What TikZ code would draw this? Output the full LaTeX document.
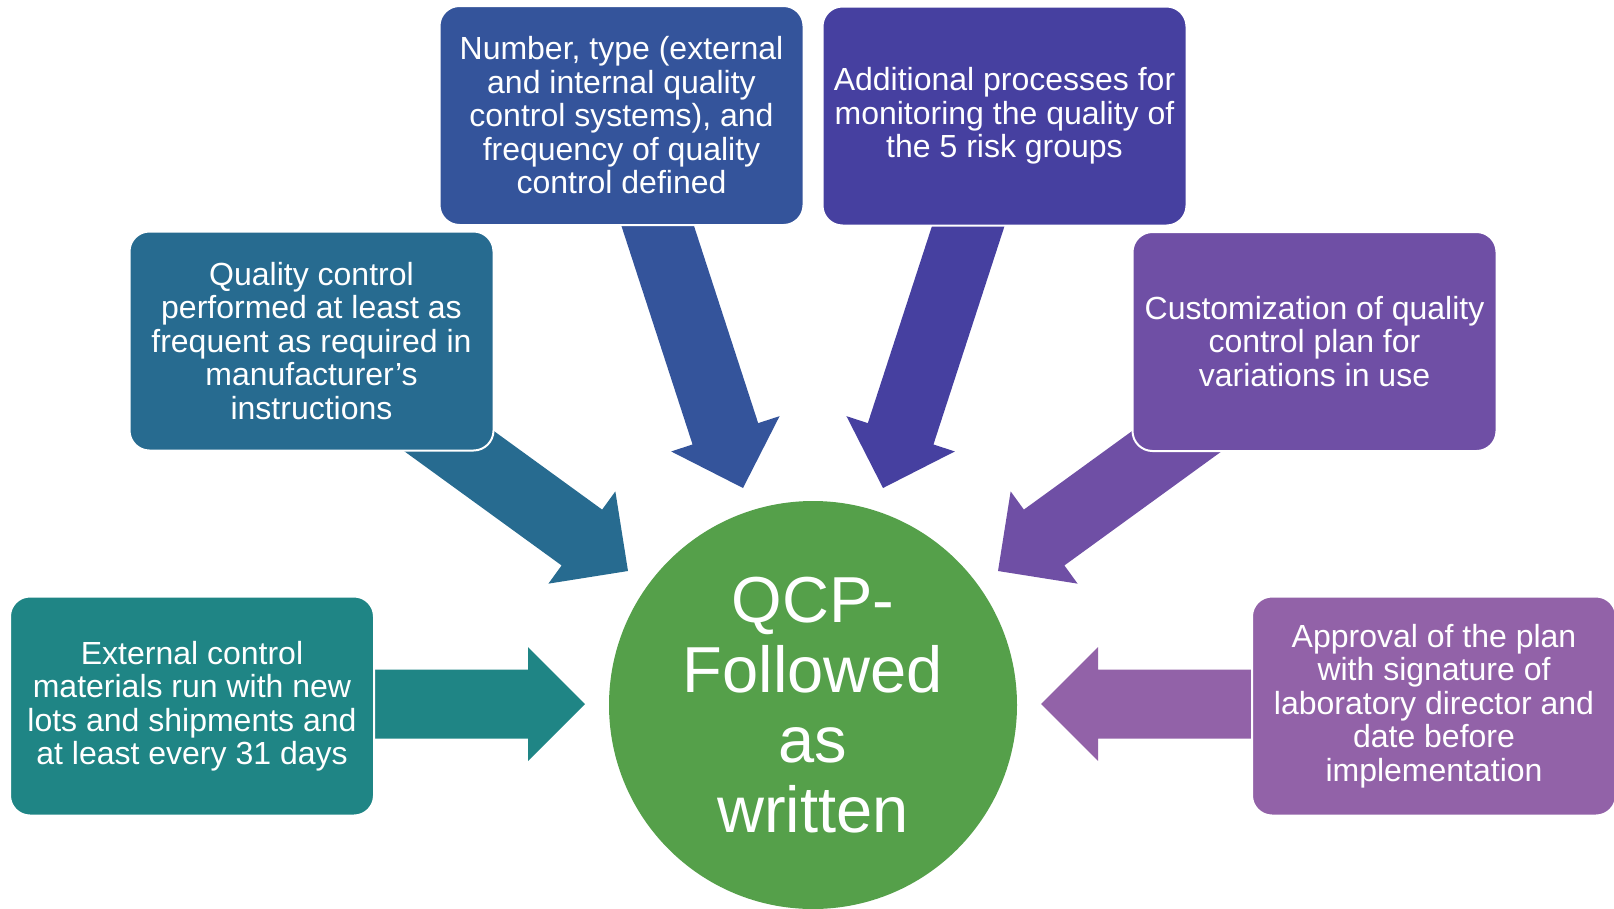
\documentclass[tikz,border=0pt]{standalone}
\usepackage{fontspec}
\setmainfont{Liberation Sans}
\usetikzlibrary{calc}
\definecolor{cA}{HTML}{1F8585}
\definecolor{cB}{HTML}{276B90}
\definecolor{cC}{HTML}{34549B}
\definecolor{cD}{HTML}{4640A0}
\definecolor{cE}{HTML}{6F4FA5}
\definecolor{cF}{HTML}{9262A8}
\definecolor{cG}{HTML}{55A04A}
\newcommand{\blockarr}[3]{%
  \coordinate (#1-h) at ($(#2)!57pt!(#1)$);
  \fill[#3] ($(#1)!34.5pt!90:(#2)$) -- ($(#1-h)!34.5pt!90:(#2)$) -- ($(#1-h)!57pt!90:(#2)$) -- (#2)
    -- ($(#1-h)!57pt!-90:(#2)$) -- ($(#1-h)!34.5pt!-90:(#2)$) -- ($(#1)!34.5pt!-90:(#2)$) -- cycle;}
\tikzset{
  box/.style={rounded corners=20pt, draw=white, line width=2pt, text=white, align=center,
    font=\fontsize{32}{33.5}\selectfont, minimum width=364pt, minimum height=219pt, inner sep=0pt},
  hub/.style={circle, fill=cG, text=white, align=center, minimum size=408pt, inner sep=0pt,
    font=\fontsize{65}{70}\selectfont}
}
\begin{document}
\begin{tikzpicture}[x=1pt,y=-1pt]
\useasboundingbox (0,0) rectangle (1614,908);
% arrow tails and tips
\coordinate (a1) at (300,704);  \coordinate (p1) at (585,704);
\coordinate (a2) at (369,383);  \coordinate (p2) at (628,571);
\coordinate (a3) at (633,150);  \coordinate (p3) at (743,488);
\coordinate (a4) at (993,150);  \coordinate (p4) at (883,488);
\coordinate (a5) at (1257,383); \coordinate (p5) at (998,571);
\coordinate (a6) at (1326,704); \coordinate (p6) at (1041,704);
\blockarr{a1}{p1}{cA}
\blockarr{a2}{p2}{cB}
\blockarr{a3}{p3}{cC}
\blockarr{a4}{p4}{cD}
\blockarr{a5}{p5}{cE}
\blockarr{a6}{p6}{cF}
% boxes
\node[box, fill=cA] (b1) at (192,706) {External control\\materials run with new\\lots and shipments and\\at least every 31 days};
\node[box, fill=cB] (b2) at (311.5,341) {Quality control\\performed at least as\\frequent as required in\\manufacturer’s\\instructions};
\node[box, fill=cC] (b3) at (621.5,115.5) {Number, type (external\\and internal quality\\control systems), and\\frequency of quality\\control defined};
\node[box, fill=cD] (b4) at (1004.5,116) {Additional processes for\\monitoring the quality of\\the 5 risk groups};
\node[box, fill=cE] (b5) at (1314.5,341.5) {Customization of quality\\control plan for\\variations in use};
\node[box, fill=cF] (b6) at (1434,706) {Approval of the plan\\with signature of\\laboratory director and\\date before\\implementation};
% hub
\node[hub] (c) at (813,705) {QCP-\\Followed\\as\\written};
\end{tikzpicture}
\end{document}
